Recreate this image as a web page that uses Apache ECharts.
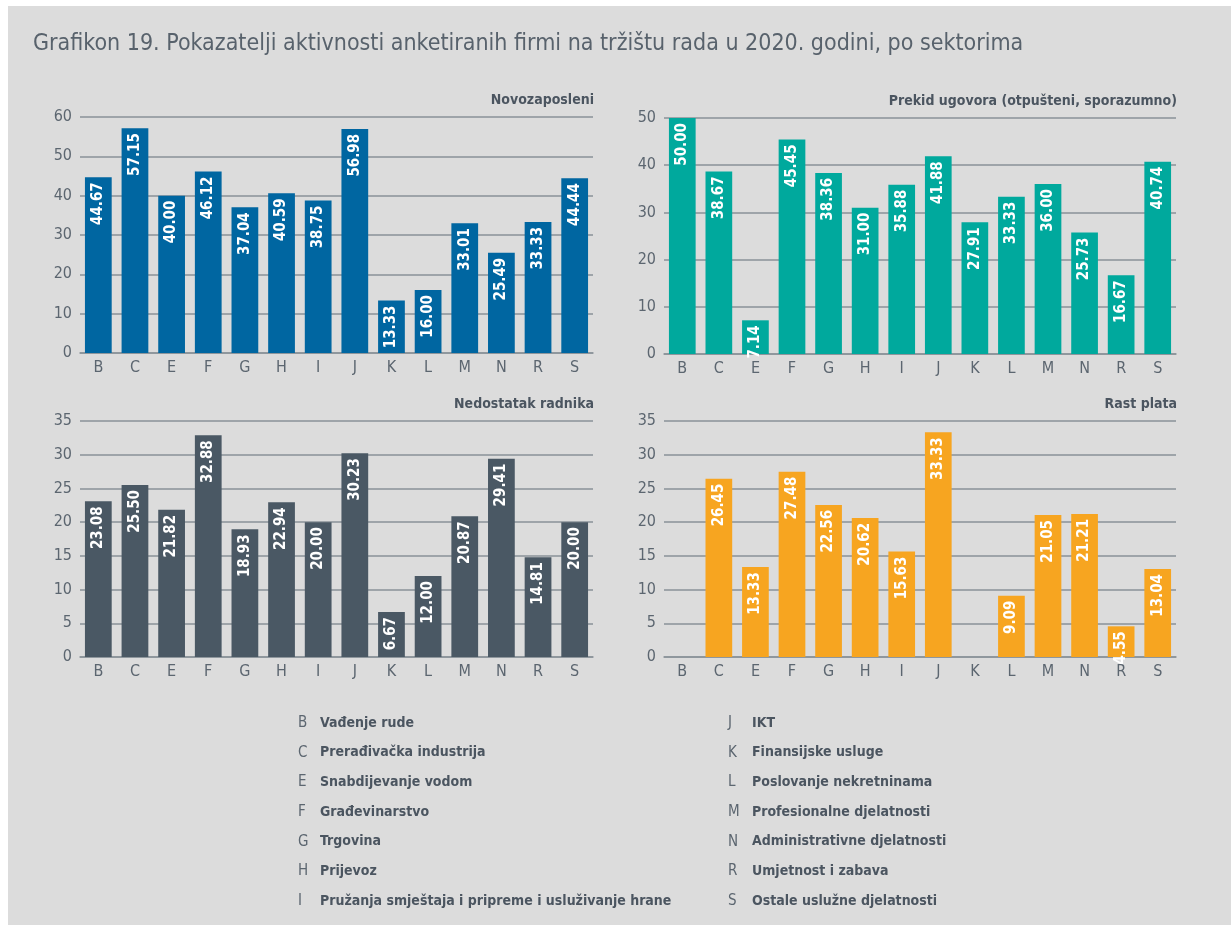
<!DOCTYPE html>
<html>
<head>
<meta charset="utf-8">
<title>Grafikon 19</title>
<script src="https://cdn.jsdelivr.net/npm/echarts@6/dist/echarts.min.js"></script>
<style>
    html, body { margin: 0; padding: 0; background: #fff; }
    .panel {
        position: absolute;
        left: 8px;
        top: 6px;
        width: 1223px;
        height: 919px;
        background: #dcdcdc;
    }
    #chart {
        position: absolute;
        left: 0;
        top: 0;
        width: 1231px;
        height: 928px;
    }
</style>
</head>
<body>
<div class="panel"></div>
<div id="chart"></div>
<script>
// sektori (oznake na x osi)
const categories = ['B', 'C', 'E', 'F', 'G', 'H', 'I', 'J', 'K', 'L', 'M', 'N', 'R', 'S'];

// vrijednosti po pokazatelju (%)
const novozaposleni = [44.67, 57.15, 40.00, 46.12, 37.04, 40.59, 38.75, 56.98, 13.33, 16.00, 33.01, 25.49, 33.33, 44.44];
const prekidUgovora = [50.00, 38.67, 7.14, 45.45, 38.36, 31.00, 35.88, 41.88, 27.91, 33.33, 36.00, 25.73, 16.67, 40.74];
const nedostatakRadnika = [23.08, 25.50, 21.82, 32.88, 18.93, 22.94, 20.00, 30.23, 6.67, 12.00, 20.87, 29.41, 14.81, 20.00];
const rastPlata = [0, 26.45, 13.33, 27.48, 22.56, 20.62, 15.63, 33.33, 0, 9.09, 21.05, 21.21, 4.55, 13.04];

// podjela y osi
const yMax = [60, 50, 35, 35];
const yStep = [10, 10, 5, 5];

// legenda sektora
const legendLeftCodes = ['B', 'C', 'E', 'F', 'G', 'H', 'I'];
const legendLeftNames = ['Vađenje rude', 'Prerađivačka industrija', 'Snabdijevanje vodom', 'Građevinarstvo', 'Trgovina', 'Prijevoz', 'Pružanja smještaja i pripreme i usluživanje hrane'];
const legendRightCodes = ['J', 'K', 'L', 'M', 'N', 'R', 'S'];
const legendRightNames = ['IKT', 'Finansijske usluge', 'Poslovanje nekretninama', 'Profesionalne djelatnosti', 'Administrativne djelatnosti', 'Umjetnost i zabava', 'Ostale uslužne djelatnosti'];

const FONT = "'DejaVu Sans Condensed', 'DejaVu Sans', sans-serif";
const AXIS_COLOR = '#8a9299';
const TEXT_COLOR = '#5c6670';
const DARK_TEXT = '#4b5560';

const panels = [
    { title: 'Novozaposleni', data: novozaposleni, color: '#0066a1', grid: { left: 80, top: 117, width: 513, height: 236 } },
    { title: 'Prekid ugovora (otpušteni, sporazumno)', data: prekidUgovora, color: '#00a99d', grid: { left: 664, top: 118, width: 512, height: 236 } },
    { title: 'Nedostatak radnika', data: nedostatakRadnika, color: '#4a5864', grid: { left: 80, top: 421, width: 513, height: 236 } },
    { title: 'Rast plata', data: rastPlata, color: '#f7a520', grid: { left: 664, top: 421, width: 512, height: 236 } }
];

// tekst legende (graphic elementi)
const legendItems = [];
const addLegendColumn = (codes, names, codeX, nameX) => {
    codes.forEach((code, i) => {
        const y = 723 + i * 29.7;
        legendItems.push({
            type: 'text', x: codeX, y: y,
            style: { text: code, font: '15px ' + FONT, fill: TEXT_COLOR, verticalAlign: 'middle' }
        });
        legendItems.push({
            type: 'text', x: nameX, y: y,
            style: { text: names[i], font: 'bold 14px ' + FONT, fill: DARK_TEXT, verticalAlign: 'middle' }
        });
    });
};
addLegendColumn(legendLeftCodes, legendLeftNames, 298, 320);
addLegendColumn(legendRightCodes, legendRightNames, 728, 752);

const getOption = () => ({
    animation: false,
    textStyle: { fontFamily: FONT },
    title: [
        {
            text: 'Grafikon 19. Pokazatelji aktivnosti anketiranih firmi na tržištu rada u 2020. godini, po sektorima',
            left: 33,
            top: 33,
            padding: 0,
            textStyle: { fontFamily: FONT, fontSize: 23, fontWeight: 'normal', color: '#58626c' }
        },
        ...panels.map(p => ({
            text: p.title,
            right: 1231 - (p.grid.left + p.grid.width) - 1,
            top: p.grid.top - 24,
            padding: 0,
            textStyle: { fontFamily: FONT, fontSize: 14, fontWeight: 'bold', color: DARK_TEXT }
        }))
    ],
    grid: panels.map(p => p.grid),
    xAxis: panels.map((p, i) => ({
        type: 'category',
        gridIndex: i,
        data: categories,
        axisLine: { lineStyle: { color: AXIS_COLOR, width: 1.5 } },
        axisTick: { inside: true, length: 5, lineStyle: { color: AXIS_COLOR } },
        axisLabel: { color: TEXT_COLOR, fontSize: 16, margin: 7, fontFamily: FONT }
    })),
    yAxis: panels.map((p, i) => ({
        type: 'value',
        gridIndex: i,
        min: 0,
        max: yMax[i],
        interval: yStep[i],
        axisLine: { show: false },
        axisTick: { show: false },
        axisLabel: { color: TEXT_COLOR, fontSize: 16, margin: 8, fontFamily: FONT },
        splitLine: { lineStyle: { color: AXIS_COLOR, width: 1.5 } }
    })),
    series: panels.map((p, i) => ({
        name: p.title,
        type: 'bar',
        xAxisIndex: i,
        yAxisIndex: i,
        data: p.data,
        barCategoryGap: '27%',
        itemStyle: { color: p.color },
        label: {
            show: true,
            position: 'insideTop',
            rotate: 90,
            align: 'right',
            verticalAlign: 'middle',
            distance: 5,
            color: '#fff',
            fontWeight: 'bold',
            fontSize: 15,
            fontFamily: FONT,
            formatter: (params) => params.value ? params.value.toFixed(2) : ''
        }
    })),
    graphic: legendItems
});

const myChart = echarts.init(document.getElementById('chart'), null, { renderer: 'canvas' });
myChart.setOption(getOption());
</script>
</body>
</html>
